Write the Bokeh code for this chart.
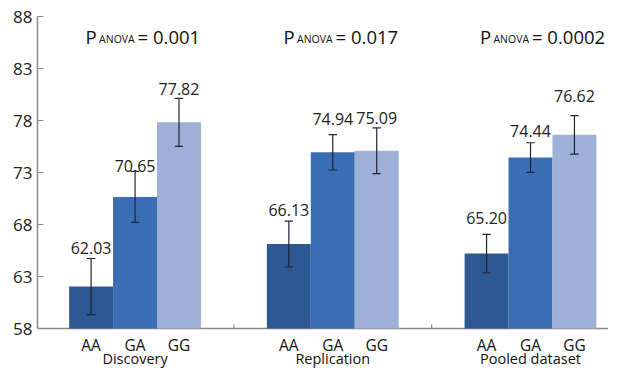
from bokeh.plotting import figure
from bokeh.models import Range1d, FixedTicker, ColumnDataSource
from bokeh.core.properties import value
from bokeh.embed import file_html
from bokeh.resources import INLINE

# ---- data ----
groups = ["Discovery", "Replication", "Pooled dataset"]
genotypes = ["AA", "GA", "GG"]
discovery_mean = [62.03, 70.65, 77.82]
discovery_err = [2.70, 2.45, 2.30]
replication_mean = [66.13, 74.94, 75.09]
replication_err = [2.20, 1.70, 2.20]
pooled_mean = [65.20, 74.44, 76.62]
pooled_err = [1.85, 1.42, 1.85]
p_anova = ["0.001", "0.017", "0.0002"]
y_ticks = [58, 63, 68, 73, 78, 83, 88]

# ---- layout / style ----
FONT = "Open Sans"
colors = ["#2d5892", "#3a6db2", "#9db0d6"]
AXIS_COL = "#8a8a8a"
group_step = 9          # x units between group centres
bar_w = 2               # bar width in x units
sub_off = [-2, 0, 2]
label_gap = [11, 5, 9, 11, 16, 10, 16, 12, 20]   # px gap above whisker for value labels
p_start = [-2.25, -2.24, -2.3]                   # x offset of "P" from group centre

all_means = [discovery_mean, replication_mean, pooled_mean]
all_errs = [discovery_err, replication_err, pooled_err]

xs, tops, lows, highs, cols, texts, gts = [], [], [], [], [], [], []
for g in range(3):
    for s in range(3):
        xs.append(g * group_step + sub_off[s])
        m = all_means[g][s]
        e = all_errs[g][s]
        tops.append(m)
        lows.append(m - e)
        highs.append(m + e)
        cols.append(colors[s])
        texts.append(f"{m:.2f}")
        gts.append(genotypes[s])

y0, y1 = y_ticks[0], y_ticks[-1]
W, H = 608, 369
MB_L, MB_T = 37, 16
AXIS_FROM_BOTTOM = 41          # px between x-axis line and figure bottom
x_start = -4.44
px_per_x = 21.97
x_end = x_start + (W - MB_L) / px_per_x
px_per_y = (H - MB_T - AXIS_FROM_BOTTOM) / (y1 - y0)
y_low = y0 - AXIS_FROM_BOTTOM / px_per_y

src = ColumnDataSource(dict(x=xs, top=tops, low=lows, high=highs, color=cols,
                            text=texts, gap=[-v for v in label_gap], gt=gts,
                            base=[y0] * len(xs),
                            cl=[x - 0.19 for x in xs], cr=[x + 0.19 for x in xs]))

p = figure(width=W, height=H, output_backend="svg", toolbar_location=None,
           x_range=Range1d(x_start, x_end), y_range=Range1d(y_low, y1),
           min_border_left=MB_L, min_border_top=MB_T, min_border_right=0,
           min_border_bottom=0)
p.outline_line_color = None
p.grid.visible = False
p.background_fill_color = "white"
p.xaxis.visible = False

# x axis line
p.segment(x0=[x_start], y0=[y0], x1=[x_end], y1=[y0], line_color=AXIS_COL, line_width=1.5)

p.vbar(x="x", top="top", bottom=y0, width=bar_w, fill_color="color", line_color=None, source=src)
p.segment(x0="x", y0="low", x1="x", y1="high", line_color="#1f2633", line_width=1.2, source=src)
p.segment(x0="cl", y0="low", x1="cr", y1="low", line_color="#1f2633", line_width=1.2, source=src)
p.segment(x0="cl", y0="high", x1="cr", y1="high", line_color="#1f2633", line_width=1.2, source=src)
p.text(x="x", y="high", text="text", y_offset="gap", text_align="center",
       text_baseline="alphabetic", text_font=value(FONT), text_font_size="16px",
       text_color="#222222", source=src)

# group boundary ticks on the x axis (pointing up, ~4px)
bx = [group_step * (g + 0.5) for g in range(2)]
p.segment(x0=bx, y0=[y0] * 2, x1=bx, y1=[y0 + 4 / px_per_y] * 2,
          line_color=AXIS_COL, line_width=1.2)

# genotype labels and group labels below the x axis
p.text(x="x", y="base", text="gt", y_offset=16, text_align="center",
       text_baseline="alphabetic", text_font=value(FONT), text_font_size="15.5px",
       text_color="#111111", source=src)
gpos = [g * group_step for g in range(3)]
p.text(x=gpos, y=[y0] * 3, text=groups, y_offset=30, text_align="center",
       text_baseline="alphabetic", text_font=value(FONT), text_font_size="14.5px",
       text_color="#111111")

# P_ANOVA annotations
px = [g * group_step + p_start[g] for g in range(3)]
py = [y1 - (36 - MB_T) / px_per_y] * 3
p.text(x=px, y=py, text=["P"] * 3, text_align="left", text_baseline="alphabetic",
       text_font=value(FONT), text_font_size="18.5px", text_color="#111111")
p.text(x=px, y=py, text=["ANOVA"] * 3, x_offset=13.5, y_offset=2.5, text_align="left",
       text_baseline="alphabetic", text_font=value(FONT), text_font_size="10.5px",
       text_color="#111111")
p.text(x=px, y=py, text=["= " + v for v in p_anova], x_offset=52, text_align="left",
       text_baseline="alphabetic", text_font=value(FONT), text_font_size="18.5px",
       text_color="#111111")

# y axis
ya = p.yaxis[0]
ya.ticker = FixedTicker(ticks=y_ticks)
ya.bounds = (y0, y1)
ya.major_tick_in = 6
ya.major_tick_out = 0
ya.minor_tick_line_color = None
ya.axis_line_color = AXIS_COL
ya.axis_line_width = 1.5
ya.major_tick_line_color = AXIS_COL
ya.major_tick_line_width = 1.2
ya.major_label_standoff = 5
ya.major_label_text_font = FONT
ya.major_label_text_font_size = "17px"
ya.major_label_text_color = "#222222"

open("out.html", "w").write(file_html(p, INLINE))
